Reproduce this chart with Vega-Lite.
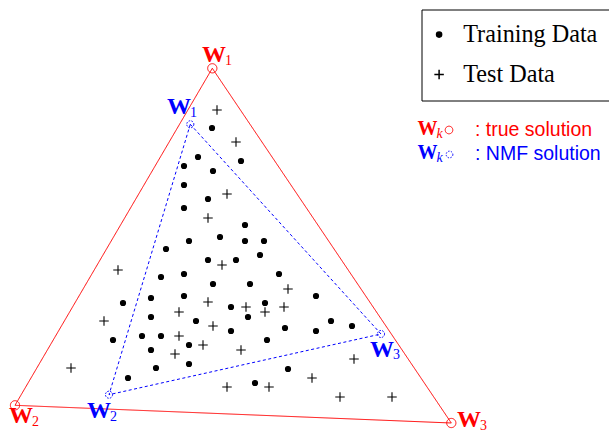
{
  "$schema": "https://vega.github.io/schema/vega-lite/v6.json",
  "width": 609,
  "height": 431,
  "autosize": {"type": "none"},
  "padding": 0,
  "background": "white",
  "config": {
    "view": {"stroke": null},
    "axis": {"disable": true}
  },
  "datasets": {
    "vertices": [
      {"solution": "true", "k": 1, "x": 212.3, "y": 68.3, "lx": 202, "ly": 62},
      {"solution": "true", "k": 2, "x": 15, "y": 405.3, "lx": 9, "ly": 423},
      {"solution": "true", "k": 3, "x": 451.3, "y": 423, "lx": 457, "ly": 427},
      {"solution": "NMF", "k": 1, "x": 190.3, "y": 124.3, "lx": 167, "ly": 114},
      {"solution": "NMF", "k": 2, "x": 109, "y": 394.7, "lx": 87, "ly": 418},
      {"solution": "NMF", "k": 3, "x": 381, "y": 334, "lx": 370, "ly": 356.5}
    ],
    "key": [
      {"solution": "true", "text": ": true solution", "wx": 417.5, "wy": 135, "cx": 449, "cy": 130, "tx": 475, "ty": 136},
      {"solution": "NMF", "text": ": NMF solution", "wx": 417.5, "wy": 159, "cx": 449.5, "cy": 154.5, "tx": 475, "ty": 160}
    ],
    "points": [
      {"set": "Training Data", "x": 212, "y": 128},
      {"set": "Training Data", "x": 198, "y": 157},
      {"set": "Training Data", "x": 241, "y": 161},
      {"set": "Training Data", "x": 184, "y": 166},
      {"set": "Training Data", "x": 213, "y": 171},
      {"set": "Training Data", "x": 184, "y": 185},
      {"set": "Training Data", "x": 208, "y": 199},
      {"set": "Training Data", "x": 184, "y": 208},
      {"set": "Training Data", "x": 245, "y": 225},
      {"set": "Training Data", "x": 220, "y": 237},
      {"set": "Training Data", "x": 189, "y": 241},
      {"set": "Training Data", "x": 245, "y": 241},
      {"set": "Training Data", "x": 264, "y": 241},
      {"set": "Training Data", "x": 166, "y": 249},
      {"set": "Training Data", "x": 260, "y": 255},
      {"set": "Training Data", "x": 208, "y": 260},
      {"set": "Training Data", "x": 236, "y": 260},
      {"set": "Training Data", "x": 161, "y": 277},
      {"set": "Training Data", "x": 184, "y": 274},
      {"set": "Training Data", "x": 279, "y": 274},
      {"set": "Training Data", "x": 213, "y": 284},
      {"set": "Training Data", "x": 250, "y": 284},
      {"set": "Training Data", "x": 316, "y": 296},
      {"set": "Training Data", "x": 123, "y": 303},
      {"set": "Training Data", "x": 151, "y": 298},
      {"set": "Training Data", "x": 184, "y": 296},
      {"set": "Training Data", "x": 265, "y": 303},
      {"set": "Training Data", "x": 231, "y": 307},
      {"set": "Training Data", "x": 248, "y": 317},
      {"set": "Training Data", "x": 151, "y": 317},
      {"set": "Training Data", "x": 196, "y": 321},
      {"set": "Training Data", "x": 331, "y": 321},
      {"set": "Training Data", "x": 352, "y": 326},
      {"set": "Training Data", "x": 113, "y": 340},
      {"set": "Training Data", "x": 142, "y": 336},
      {"set": "Training Data", "x": 161, "y": 336},
      {"set": "Training Data", "x": 231, "y": 331},
      {"set": "Training Data", "x": 285, "y": 328},
      {"set": "Training Data", "x": 316, "y": 331},
      {"set": "Training Data", "x": 151, "y": 350},
      {"set": "Training Data", "x": 189, "y": 345},
      {"set": "Training Data", "x": 267, "y": 340},
      {"set": "Training Data", "x": 156, "y": 368},
      {"set": "Training Data", "x": 189, "y": 364},
      {"set": "Training Data", "x": 288, "y": 369},
      {"set": "Training Data", "x": 128, "y": 378},
      {"set": "Training Data", "x": 255, "y": 383},
      {"set": "Test Data", "x": 217, "y": 110},
      {"set": "Test Data", "x": 236, "y": 142},
      {"set": "Test Data", "x": 227, "y": 194},
      {"set": "Test Data", "x": 208, "y": 218},
      {"set": "Test Data", "x": 118, "y": 270},
      {"set": "Test Data", "x": 222, "y": 265},
      {"set": "Test Data", "x": 288, "y": 289},
      {"set": "Test Data", "x": 208, "y": 302},
      {"set": "Test Data", "x": 179, "y": 312},
      {"set": "Test Data", "x": 246, "y": 307},
      {"set": "Test Data", "x": 265, "y": 312},
      {"set": "Test Data", "x": 284, "y": 307},
      {"set": "Test Data", "x": 104, "y": 321},
      {"set": "Test Data", "x": 213, "y": 326},
      {"set": "Test Data", "x": 179, "y": 336},
      {"set": "Test Data", "x": 203, "y": 345},
      {"set": "Test Data", "x": 175, "y": 354},
      {"set": "Test Data", "x": 241, "y": 350},
      {"set": "Test Data", "x": 71, "y": 368},
      {"set": "Test Data", "x": 354, "y": 359},
      {"set": "Test Data", "x": 312, "y": 378},
      {"set": "Test Data", "x": 227, "y": 387},
      {"set": "Test Data", "x": 269, "y": 387},
      {"set": "Test Data", "x": 340, "y": 397},
      {"set": "Test Data", "x": 392, "y": 397}
    ]
  },
  "layer": [
    {
      "data": {"name": "vertices"},
      "mark": {"type": "line", "interpolate": "linear-closed", "strokeWidth": 1},
      "encoding": {
        "x": {"field": "x", "type": "quantitative", "scale": {"domain": [0, 609], "nice": false, "zero": false}},
        "y": {"field": "y", "type": "quantitative", "scale": {"domain": [0, 431], "reverse": true, "nice": false, "zero": false}},
        "order": {"field": "k", "type": "quantitative"},
        "color": {"field": "solution", "type": "nominal", "scale": {"domain": ["true", "NMF"], "range": ["#ff0000", "#0000ff"]}, "legend": null},
        "strokeDash": {"field": "solution", "type": "nominal", "scale": {"domain": ["true", "NMF"], "range": [[1, 0], [3, 2.5]]}, "legend": null}
      }
    },
    {
      "data": {"name": "vertices"},
      "mark": {"type": "point", "shape": "circle", "filled": false, "strokeWidth": 1, "opacity": 1},
      "encoding": {
        "x": {"field": "x", "type": "quantitative"},
        "y": {"field": "y", "type": "quantitative"},
        "color": {"field": "solution", "type": "nominal", "scale": {"domain": ["true", "NMF"], "range": ["#ff0000", "#0000ff"]}, "legend": null},
        "size": {"field": "solution", "type": "nominal", "scale": {"domain": ["true", "NMF"], "range": [85, 50]}, "legend": null},
        "strokeDash": {"field": "solution", "type": "nominal", "scale": {"domain": ["true", "NMF"], "range": [[1, 0], [1.6, 1.3]]}, "legend": null}
      }
    },
    {
      "data": {"name": "vertices"},
      "mark": {"type": "text", "text": "W", "font": "Liberation Serif", "fontWeight": "bold", "fontSize": 24, "align": "left", "baseline": "alphabetic"},
      "encoding": {
        "x": {"field": "lx", "type": "quantitative"},
        "y": {"field": "ly", "type": "quantitative"},
        "color": {"field": "solution", "type": "nominal", "scale": {"domain": ["true", "NMF"], "range": ["#ff0000", "#0000ff"]}, "legend": null}
      }
    },
    {
      "data": {"name": "vertices"},
      "mark": {"type": "text", "font": "Liberation Serif", "fontSize": 14, "align": "left", "baseline": "alphabetic", "dx": 23, "dy": 2.5},
      "encoding": {
        "x": {"field": "lx", "type": "quantitative"},
        "y": {"field": "ly", "type": "quantitative"},
        "text": {"field": "k", "type": "nominal"},
        "color": {"field": "solution", "type": "nominal", "scale": {"domain": ["true", "NMF"], "range": ["#ff0000", "#0000ff"]}, "legend": null}
      }
    },
    {
      "data": {"name": "key"},
      "mark": {"type": "text", "text": "W", "font": "Liberation Serif", "fontWeight": "bold", "fontSize": 20, "align": "left", "baseline": "alphabetic"},
      "encoding": {
        "x": {"field": "wx", "type": "quantitative"},
        "y": {"field": "wy", "type": "quantitative"},
        "color": {"field": "solution", "type": "nominal", "scale": {"domain": ["true", "NMF"], "range": ["#ff0000", "#0000ff"]}, "legend": null}
      }
    },
    {
      "data": {"name": "key"},
      "mark": {"type": "text", "text": "k", "font": "Liberation Serif", "fontStyle": "italic", "fontSize": 14, "align": "left", "baseline": "alphabetic", "dx": 19, "dy": 2.5},
      "encoding": {
        "x": {"field": "wx", "type": "quantitative"},
        "y": {"field": "wy", "type": "quantitative"},
        "color": {"field": "solution", "type": "nominal", "scale": {"domain": ["true", "NMF"], "range": ["#ff0000", "#0000ff"]}, "legend": null}
      }
    },
    {
      "data": {"name": "key"},
      "mark": {"type": "point", "shape": "circle", "filled": false, "strokeWidth": 1, "opacity": 1},
      "encoding": {
        "x": {"field": "cx", "type": "quantitative"},
        "y": {"field": "cy", "type": "quantitative"},
        "color": {"field": "solution", "type": "nominal", "scale": {"domain": ["true", "NMF"], "range": ["#ff0000", "#0000ff"]}, "legend": null},
        "size": {"field": "solution", "type": "nominal", "scale": {"domain": ["true", "NMF"], "range": [58, 45]}, "legend": null},
        "strokeDash": {"field": "solution", "type": "nominal", "scale": {"domain": ["true", "NMF"], "range": [[1, 0], [1.4, 1.4]]}, "legend": null}
      }
    },
    {
      "data": {"name": "key"},
      "mark": {"type": "text", "font": "Liberation Sans", "fontSize": 19.5, "align": "left", "baseline": "alphabetic"},
      "encoding": {
        "x": {"field": "tx", "type": "quantitative"},
        "y": {"field": "ty", "type": "quantitative"},
        "text": {"field": "text", "type": "nominal"},
        "color": {"field": "solution", "type": "nominal", "scale": {"domain": ["true", "NMF"], "range": ["#ff0000", "#0000ff"]}, "legend": null}
      }
    },
    {
      "data": {"name": "points"},
      "mark": {"type": "point", "filled": true, "fill": "black", "stroke": "black", "strokeWidth": 1.1, "opacity": 1},
      "encoding": {
        "x": {"field": "x", "type": "quantitative"},
        "y": {"field": "y", "type": "quantitative"},
        "shape": {
          "field": "set", "type": "nominal",
          "scale": {"domain": ["Training Data", "Test Data"], "range": ["circle", "M-1,0H1M0,-1V1"]},
          "legend": {
            "title": null, "orient": "none", "legendX": 421.5, "legendY": 9.5, "padding": 13,
            "strokeColor": "black", "fillColor": "white",
            "labelFont": "Liberation Serif", "labelFontSize": 24.2, "labelColor": "black", "labelOffset": 12,
            "labelLimit": 300, "symbolOffset": -7.5, "rowPadding": 15,
            "encode": {"symbols": {"update": {"fill": {"value": "black"}, "stroke": {"value": "black"}, "strokeWidth": {"value": 1}, "opacity": {"value": 1}}}}
          }
        },
        "size": {
          "field": "set", "type": "nominal",
          "scale": {"domain": ["Training Data", "Test Data"], "range": [26, 90]},
          "legend": {
            "title": null, "orient": "none", "legendX": 421.5, "legendY": 9.5, "padding": 13,
            "strokeColor": "black", "fillColor": "white",
            "labelFont": "Liberation Serif", "labelFontSize": 24.2, "labelColor": "black", "labelOffset": 12,
            "labelLimit": 300, "symbolOffset": -7.5, "rowPadding": 15,
            "encode": {"symbols": {"update": {"fill": {"value": "black"}, "stroke": {"value": "black"}, "strokeWidth": {"value": 1}, "opacity": {"value": 1}}}}
          }
        }
      }
    }
  ],
  "resolve": {
    "scale": {"color": "independent", "size": "independent", "shape": "independent", "strokeDash": "independent"}
  }
}
